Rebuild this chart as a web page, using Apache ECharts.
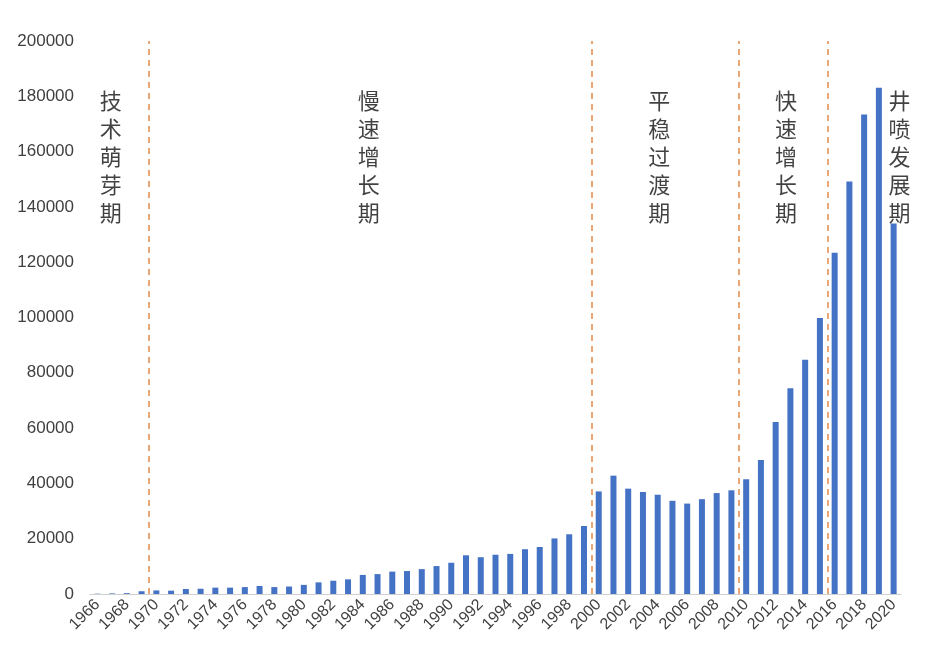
<!DOCTYPE html>
<html>
<head>
<meta charset="utf-8">
<script src="https://cdn.jsdelivr.net/npm/echarts@6/dist/echarts.min.js"></script>
<style>html,body{margin:0;padding:0;background:#fff}#main{width:925px;height:657px}</style>
</head>
<body>
<div id="main"></div>
<script>
var years = [];
for (var y = 1966; y <= 2020; y++) years.push(String(y));
var values = [100, 200, 300, 1000, 1300, 1200, 1800, 1900, 2300, 2300,
	2500, 2900, 2500, 2700, 3300, 4200, 4800, 5300, 6900, 7200,
	8100, 8300, 9000, 10100, 11300, 14000, 13300, 14200, 14500, 16200,
	17000, 20100, 21600, 24600, 37100, 42800, 38100, 36900, 35900, 33700,
	32700, 34300, 36500, 37500, 41500, 48500, 62200, 74400, 84700, 99800,
	123400, 149200, 173400, 183100, 134000];
// stage boundaries, in category index units
var dividers = [3.5, 33.5, 43.5, 49.5];
var stageNames = ['技术萌芽期', '慢速增长期', '平稳过渡期', '快速增长期', '井喷发展期'];
var stagePos = [[0.9, 158000], [18.4, 158000], [38.1, 158000], [46.7, 158000], [54.4, 158000]];

var chart = echarts.init(document.getElementById('main'));
var option = {
	animation: false,
	grid: { left: 90, right: 24, top: 41, bottom: 63 },
	xAxis: [{
		type: 'category',
		data: years,
		axisTick: { show: false },
		axisLine: { lineStyle: { color: '#d0d0d0' } },
		axisLabel: { interval: 1, rotate: 45, fontSize: 16, color: '#404040', margin: 8 }
	}, {
		type: 'value', min: -0.5, max: 54.5, show: false
	}],
	yAxis: {
		type: 'value', min: 0, max: 200000, interval: 20000,
		splitLine: { show: false },
		axisLine: { show: false },
		axisTick: { show: false },
		axisLabel: { fontSize: 17, color: '#404040', margin: 16, formatter: function (v) { return String(v); } }
	},
	series: [{
		type: 'bar',
		data: values,
		barWidth: 6,
		itemStyle: { color: '#4472C4' }
	}, {
		type: 'scatter',
		xAxisIndex: 1,
		symbolSize: 0,
		data: stagePos.map(function (p, i) { return { value: p, name: stageNames[i] }; }),
		label: {
			show: true,
			position: 'inside',
			formatter: function (p) { return p.name.split('').join('\n'); },
			fontSize: 22,
			lineHeight: 28,
			color: '#111',
			fontFamily: 'Noto Sans CJK SC'
		},
		markLine: {
			symbol: 'none',
			silent: true,
			label: { show: false },
			lineStyle: { type: [6, 5], color: '#E08A4A', width: 1.5 },
			data: dividers.map(function (d) { return { xAxis: d }; })
		}
	}]
};
chart.setOption(option);
</script>
</body>
</html>
